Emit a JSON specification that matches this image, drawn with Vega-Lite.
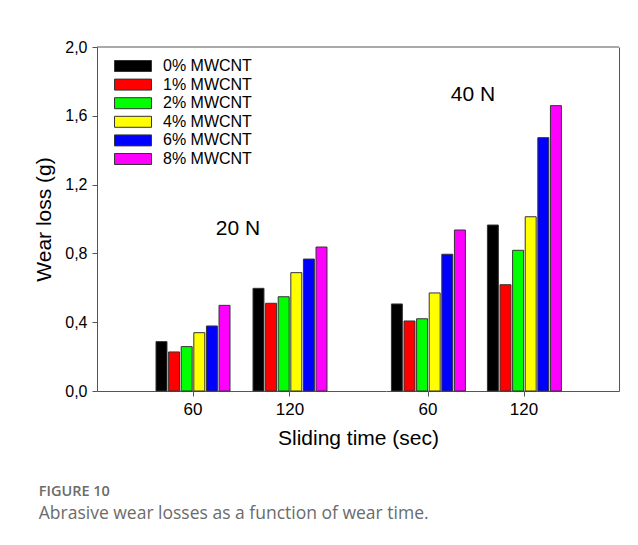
{
  "$schema": "https://vega.github.io/schema/vega-lite/v6.json",
  "padding": {"left": 33, "top": 39, "right": 10, "bottom": 10},
  "background": "white",
  "data": {"values": [
    {"load": "20 N", "time": "60", "mwcnt": "0% MWCNT", "wear": 0.287},
    {"load": "20 N", "time": "60", "mwcnt": "1% MWCNT", "wear": 0.227},
    {"load": "20 N", "time": "60", "mwcnt": "2% MWCNT", "wear": 0.258},
    {"load": "20 N", "time": "60", "mwcnt": "4% MWCNT", "wear": 0.339},
    {"load": "20 N", "time": "60", "mwcnt": "6% MWCNT", "wear": 0.378},
    {"load": "20 N", "time": "60", "mwcnt": "8% MWCNT", "wear": 0.498},
    {"load": "20 N", "time": "120", "mwcnt": "0% MWCNT", "wear": 0.597},
    {"load": "20 N", "time": "120", "mwcnt": "1% MWCNT", "wear": 0.51},
    {"load": "20 N", "time": "120", "mwcnt": "2% MWCNT", "wear": 0.548},
    {"load": "20 N", "time": "120", "mwcnt": "4% MWCNT", "wear": 0.688},
    {"load": "20 N", "time": "120", "mwcnt": "6% MWCNT", "wear": 0.767},
    {"load": "20 N", "time": "120", "mwcnt": "8% MWCNT", "wear": 0.837},
    {"load": "40 N", "time": "60", "mwcnt": "0% MWCNT", "wear": 0.506},
    {"load": "40 N", "time": "60", "mwcnt": "1% MWCNT", "wear": 0.407},
    {"load": "40 N", "time": "60", "mwcnt": "2% MWCNT", "wear": 0.42},
    {"load": "40 N", "time": "60", "mwcnt": "4% MWCNT", "wear": 0.57},
    {"load": "40 N", "time": "60", "mwcnt": "6% MWCNT", "wear": 0.795},
    {"load": "40 N", "time": "60", "mwcnt": "8% MWCNT", "wear": 0.936},
    {"load": "40 N", "time": "120", "mwcnt": "0% MWCNT", "wear": 0.965},
    {"load": "40 N", "time": "120", "mwcnt": "1% MWCNT", "wear": 0.618},
    {"load": "40 N", "time": "120", "mwcnt": "2% MWCNT", "wear": 0.818},
    {"load": "40 N", "time": "120", "mwcnt": "4% MWCNT", "wear": 1.013},
    {"load": "40 N", "time": "120", "mwcnt": "6% MWCNT", "wear": 1.473},
    {"load": "40 N", "time": "120", "mwcnt": "8% MWCNT", "wear": 1.659}
  ]},
  "title": {
    "text": "FIGURE 10",
    "subtitle": "Abrasive wear losses as a function of wear time.",
    "orient": "bottom",
    "anchor": "start",
    "frame": "bounds",
    "dx": 5,
    "offset": 37,
    "font": "Open Sans",
    "fontSize": 14.5,
    "fontWeight": 600,
    "color": "#6b6b6b",
    "subtitleFont": "Open Sans",
    "subtitleFontSize": 17.5,
    "subtitleColor": "#6b6b6b",
    "subtitlePadding": 5
  },
  "spacing": 0,
  "bounds": "flush",
  "resolve": {"scale": {"color": "shared", "y": "shared"}},
  "hconcat": [
    {
      "width": 289,
      "height": 344,
      "layer": [
        {
          "data": {"values": [{}]},
          "mark": {"type": "rule", "color": "#555", "strokeWidth": 1},
          "encoding": {"y": {"datum": 2}}
        },
        {
          "transform": [{"filter": "datum.load === '20 N'"}],
          "mark": {"type": "bar", "stroke": "#333", "strokeWidth": 1},
          "encoding": {
            "x": {
              "field": "time", "type": "nominal",
              "scale": {"domain": ["60", "120"], "paddingInner": 0.2165, "paddingOuter": 0.598, "align": 0.5, "round": false},
              "axis": {"title": "Sliding time (sec)", "titleX": 261, "titleFontSize": 21, "titlePadding": 10, "labelAngle": 0, "labelFontSize": 17, "tickSize": 5, "labelPadding": 5}
            },
            "xOffset": {
              "field": "mwcnt", "type": "nominal",
              "scale": {"domain": ["0% MWCNT", "1% MWCNT", "2% MWCNT", "4% MWCNT", "6% MWCNT", "8% MWCNT"], "paddingInner": 0.13, "paddingOuter": 0.08}
            },
            "y": {
              "field": "wear", "type": "quantitative",
              "scale": {"domain": [0, 2], "nice": false},
              "axis": {"title": "Wear loss (g)", "titleFontSize": 21, "titlePadding": 10, "values": [0, 0.4, 0.8, 1.2, 1.6, 2.0], "labelExpr": "replace(format(datum.value, '.1f'), '.', ',')", "labelFontSize": 16, "tickSize": 5, "labelPadding": 5}
            },
            "color": {
              "field": "mwcnt", "type": "nominal",
              "scale": {"domain": ["0% MWCNT", "1% MWCNT", "2% MWCNT", "4% MWCNT", "6% MWCNT", "8% MWCNT"], "range": ["#000000", "#ff0000", "#00ff00", "#ffff00", "#0000ff", "#ff00ff"]},
              "legend": {"orient": "none", "legendX": 28, "legendY": 11, "title": null, "padding": 0, "symbolType": "M-3.36,-1L3.36,-1L3.36,1L-3.36,1Z", "symbolSize": 121, "symbolStrokeColor": "#222", "symbolStrokeWidth": 1, "labelFontSize": 16, "labelFont": "Liberation Sans", "labelColor": "#000", "labelOffset": 22, "rowPadding": 2.6}
            }
          }
        },
        {
          "data": {"values": [{"label": "20 N"}]},
          "mark": {"type": "text", "fontSize": 21, "font": "Liberation Sans", "dx": -52, "baseline": "middle", "align": "center", "color": "#000"},
          "encoding": {"x": {"datum": "120"}, "y": {"datum": 0.942}, "text": {"field": "label"}}
        }
      ]
    },
    {
      "width": 233,
      "height": 344,
      "layer": [
        {
          "data": {"values": [{}]},
          "mark": {"type": "rule", "color": "#555", "strokeWidth": 1},
          "encoding": {"y": {"datum": 2}}
        },
        {
          "transform": [{"filter": "datum.load === '40 N'"}],
          "mark": {"type": "bar", "stroke": "#333", "strokeWidth": 1},
          "encoding": {
            "x": {
              "field": "time", "type": "nominal",
              "scale": {"domain": ["60", "120"], "paddingInner": 0.2165, "paddingOuter": 0.3218, "align": 0.0712, "round": false},
              "axis": {"title": null, "labelAngle": 0, "labelFontSize": 17, "tickSize": 5, "labelPadding": 5}
            },
            "xOffset": {
              "field": "mwcnt", "type": "nominal",
              "scale": {"domain": ["0% MWCNT", "1% MWCNT", "2% MWCNT", "4% MWCNT", "6% MWCNT", "8% MWCNT"], "paddingInner": 0.13, "paddingOuter": 0.08}
            },
            "y": {
              "field": "wear", "type": "quantitative",
              "scale": {"domain": [0, 2], "nice": false},
              "axis": {"orient": "right", "title": null, "labels": false, "ticks": false, "values": []}
            },
            "color": {
              "field": "mwcnt", "type": "nominal",
              "scale": {"domain": ["0% MWCNT", "1% MWCNT", "2% MWCNT", "4% MWCNT", "6% MWCNT", "8% MWCNT"], "range": ["#000000", "#ff0000", "#00ff00", "#ffff00", "#0000ff", "#ff00ff"]}
            }
          }
        },
        {
          "data": {"values": [{"label": "40 N"}]},
          "mark": {"type": "text", "fontSize": 21, "font": "Liberation Sans", "dx": 45, "baseline": "middle", "align": "center", "color": "#000"},
          "encoding": {"x": {"datum": "60"}, "y": {"datum": 1.721}, "text": {"field": "label"}}
        }
      ]
    }
  ],
  "config": {
    "view": {"stroke": null},
    "axis": {"labelFont": "Liberation Sans", "titleFont": "Liberation Sans", "domainColor": "#555", "tickColor": "#555", "grid": false, "labelColor": "#000", "titleColor": "#000", "titleFontWeight": "normal"}
  }
}
